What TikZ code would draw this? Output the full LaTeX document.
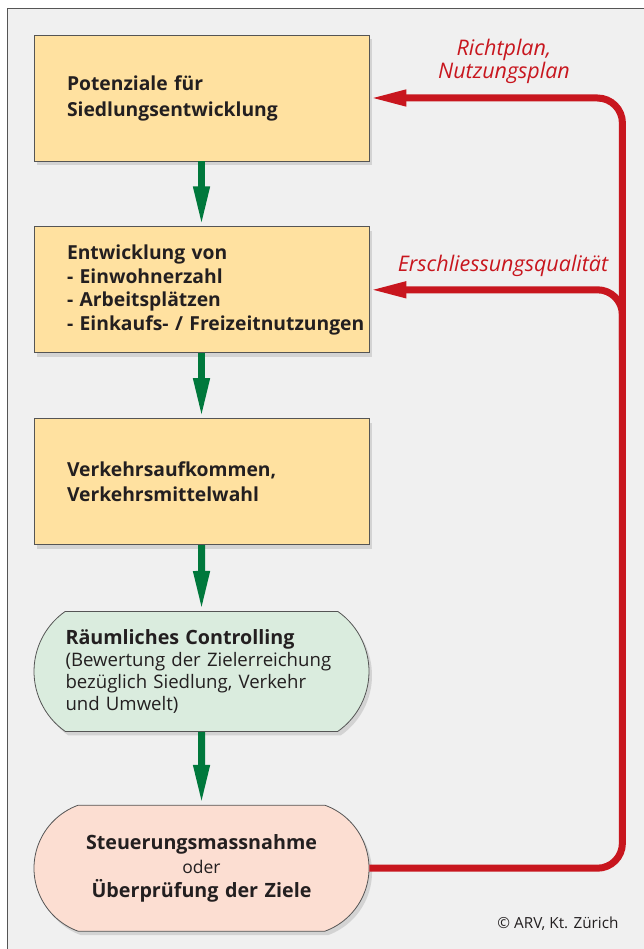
\documentclass[tikz,border=0pt]{standalone}
\usepackage{fontspec}
\setmainfont{Open Sans}
\usetikzlibrary{arrows.meta,positioning,shapes.misc,shadows}
\definecolor{paper}{RGB}{240,240,240}
\definecolor{frame}{RGB}{85,85,85}
\definecolor{sand}{RGB}{255,225,160}
\definecolor{mint}{RGB}{218,236,222}
\definecolor{rose}{RGB}{252,222,210}
\definecolor{flow}{RGB}{0,120,60}
\definecolor{back}{RGB}{200,22,30}
\definecolor{ink}{RGB}{35,31,32}

\begin{document}
\begin{tikzpicture}[x=1pt,y=-1pt,node distance=65pt,
  box/.style={draw=frame,line width=.8pt,fill=sand,minimum width=335pt,minimum height=126pt,
    text width=269pt,inner xsep=33pt,align=left,text=ink,font=\fontsize{19.3}{26}\selectfont\bfseries,
    drop shadow={shadow xshift=3pt,shadow yshift=-4pt,opacity=.25}},
  pill/.style={box,rounded rectangle,rounded rectangle arc length=110,inner xsep=0pt,text width=272pt},
  down/.style={-{Triangle[length=40pt,width=15pt]},line width=7pt,flow},
  fb/.style={-{Triangle[length=37pt,width=15pt]},line width=7pt,back,rounded corners=25pt},
  lab/.style={back,font=\fontsize{21.5}{23}\selectfont\itshape,align=center}]
\useasboundingbox (0,0) rectangle (643,949);
\fill[white] (0,0) rectangle (643,949);
\filldraw[fill=paper,draw=frame,line width=1pt] (7,9) rectangle (660,970);
\node[box] (P) at (201.5,98) {Potenziale für\\Siedlungsentwicklung};
\node[box,below=of P,font=\fontsize{19.3}{23.5}\selectfont\bfseries] (E) {Entwicklung von\\- Einwohnerzahl\\- Arbeitsplätzen\\\mbox{- Einkaufs- / Freizeitnutzungen}};
\node[box,below=of E,font=\fontsize{19.3}{25}\selectfont\bfseries] (V) {Verkehrsaufkommen,\\Verkehrsmittelwahl};
\node[pill,fill=mint,minimum height=120pt,below=66pt of V,font=\fontsize{18.6}{22}\selectfont] (R) {{\fontsize{19.7}{22}\selectfont\bfseries Räumliches Controlling}\\(Bewertung der Zielerreichung\\bezüglich Siedlung, Verkehr\\und Umwelt)};
\node[pill,fill=rose,rounded rectangle arc length=140,text width=251pt,below=73pt of R,align=center,font=\fontsize{19.7}{24}\selectfont] (S) {{\bfseries Steuerungsmassnahme}\\{\fontsize{17.5}{24}\selectfont oder}\\{\bfseries Überprüfung der Ziele}};
\foreach \a/\b in {P/E,E/V,V/R,R/S} \draw[down] (\a) -- (\b);
% feedback loop
\coordinate (X) at ([xshift=253pt]P.east);
\coordinate (Y) at ([xshift=253pt,yshift=-60pt]E.east);
\draw[fb] (S.east) -| (X) -- (P.east);
\draw[fb] (Y) |- (E.east);
\node[lab] (rp) at (504,61) {Richtplan,\\Nutzungsplan};
\node[lab,anchor=base] (eq) at (503,272) {Erschliessungsqualität};
\node[anchor=base east,text=ink,font=\fontsize{15.3}{17}\selectfont] (cr) at (622,928) {© ARV, Kt. Zürich};
\end{tikzpicture}
\end{document}
